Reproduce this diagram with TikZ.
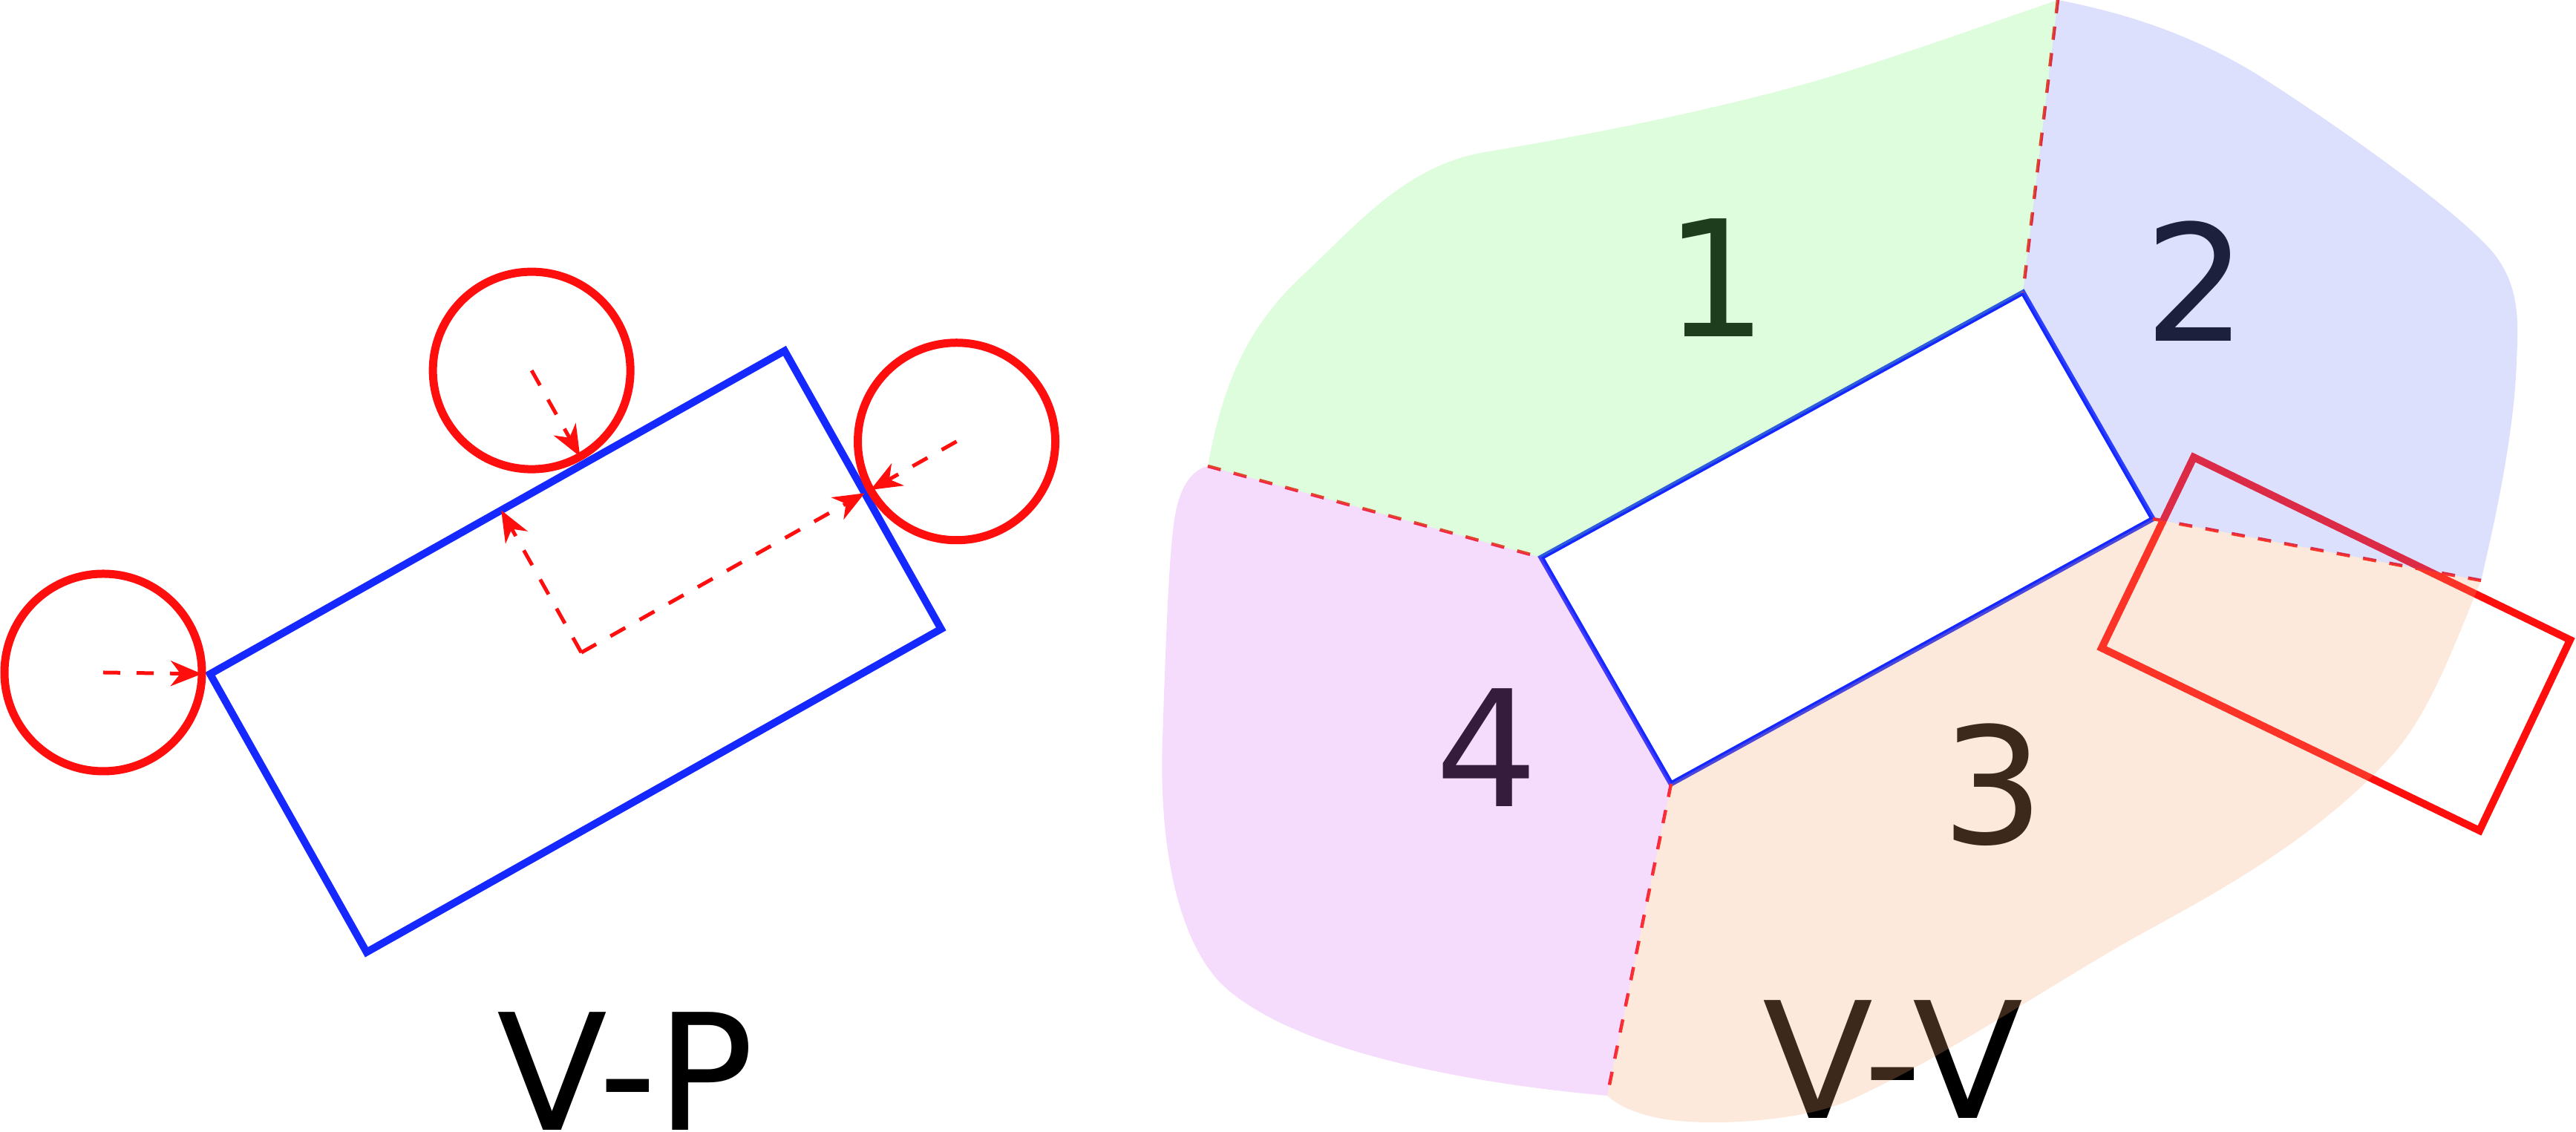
\documentclass[tikz,border=0pt]{standalone}
\usepackage{fontspec}
\setmainfont{DejaVu Sans}
\usetikzlibrary{arrows.meta,calc}
\definecolor{rectblue}{RGB}{20,40,255}
\definecolor{cred}{RGB}{255,14,14}
\definecolor{fgreen}{RGB}{119,247,119}
\definecolor{fblue}{RGB}{115,131,243}
\definecolor{forange}{RGB}{247,167,115}
\definecolor{fpink}{RGB}{215,115,243}
\begin{document}
\begin{tikzpicture}[
  lbl/.style={font=\fontsize{62}{62}\selectfont, inner sep=0pt, anchor=base},
  bluerectL/.style={draw=rectblue, line width=0.10cm, line join=miter},
  bluerectR/.style={draw=rectblue, line width=0.07cm, line join=miter},
  redrect/.style={draw=cred, line width=0.10cm, line join=miter},
  circ/.style={circle, draw=cred, line width=0.11cm, minimum size=2.66cm, inner sep=0pt},
  arr/.style={draw=cred, line width=0.05cm, dash pattern=on 0.23cm off 0.22cm,
    -{Stealth[length=0.42cm,width=0.34cm,inset=0.13cm]}},
  rdash/.style={draw=cred, line width=0.045cm, dash pattern=on 0.18cm off 0.18cm},
  region/.style={fill opacity=0.25}
]
\useasboundingbox (0,0) rectangle (34.7,15.25);

% ---------------- V-P ----------------
\coordinate (A) at (2.83,6.17);
\begin{scope}[shift={(A)}, rotate=29.36]
  \coordinate (B) at (8.88,0);
  \coordinate (C) at (8.88,-4.30);
  \coordinate (D) at (0,-4.30);
  \coordinate (c2) at (5.78,1.44);
  \coordinate (t2) at (5.78,0);
  \coordinate (c3) at (10.30,-2.20);
  \coordinate (t3) at (8.88,-2.20);
  \coordinate (P) at (4.50,-2.20);
  \coordinate (q) at (4.50,0);
\end{scope}
\coordinate (c1) at (1.39,6.19);

\draw[bluerectL] (A) -- (B) -- (C) -- (D) -- cycle;
\node[circ] (k1) at (c1) {};
\node[circ] (k2) at (c2) {};
\node[circ] (k3) at (c3) {};

\draw[arr] (k1.center) -- ($(k1.center)!1.33cm!(A)$);
\draw[arr] (k2.center) -- ($(k2.center)!1.33cm!(t2)$);
\draw[arr] (k3.center) -- ($(k3.center)!1.33cm!(t3)$);
\draw[arr] (P) -- (q);
\draw[arr] (P) -- (t3);

\node[lbl] (vp) at (8.43,0.02) {V-P};

% ---------------- V-V ----------------
\coordinate (vL) at (20.76,7.74);
\coordinate (vT) at (27.25,11.31);
\coordinate (vR) at (29.00,8.26);
\coordinate (vB) at (22.51,4.69);
\coordinate (jW) at (16.27,8.97);
\coordinate (jN) at (27.72,15.25);
\coordinate (jE) at (33.42,7.43);
\coordinate (jS) at (21.65,0.49);
\coordinate (r1) at (29.55,9.09);
\coordinate (r2) at (34.62,6.63);
\coordinate (r3) at (33.40,4.06);
\coordinate (r4) at (28.31,6.52);

\draw[bluerectR] (vL) -- (vT) -- (vR) -- (vB) -- cycle;
\draw[redrect] (r1) -- (r2) -- (r3) -- (r4) -- cycle;
\draw[rdash] (jW) -- (vL);
\draw[rdash] (jN) -- (vT);
\draw[rdash] (vR) -- (jE);
\draw[rdash] (vB) -- (jS);

\node[lbl] (n1) at (23.12,10.71) {1};
\node[lbl] (n2) at (29.58,10.65) {2};
\node[lbl] (n3) at (26.85,3.88) {3};
\node[lbl] (n4) at (20.03,4.38) {4};
\node[lbl] (vv) at (25.50,0.18) {V-V};

% translucent regions
\fill[fgreen, region] (jW)
  .. controls (16.50,10.25) and (16.90,10.95) .. (17.60,11.59)
  .. controls (18.30,12.25) and (18.95,13.02) .. (20.00,13.20)
  .. controls (21.50,13.45) and (23.00,13.75) .. (24.50,14.17)
  .. controls (25.60,14.50) and (26.70,14.90) .. (jN)
  -- (vT) -- (vL) -- cycle;
\fill[fblue, region] (jN)
  .. controls (28.60,15.08) and (29.50,14.80) .. (30.40,14.25)
  .. controls (31.50,13.55) and (33.20,12.35) .. (33.62,11.80)
  .. controls (33.95,11.35) and (33.92,10.90) .. (33.90,10.40)
  .. controls (33.87,9.40) and (33.60,8.20) .. (jE)
  -- (vR) -- (vT) -- cycle;
\fill[forange, region] (jE)
  .. controls (33.00,6.40) and (32.70,5.60) .. (32.20,5.05)
  .. controls (31.20,3.95) and (29.85,3.22) .. (28.90,2.70)
  .. controls (27.80,2.10) and (26.20,1.00) .. (24.90,0.42)
  .. controls (24.20,0.12) and (22.80,0.05) .. (22.20,0.22)
  .. controls (21.90,0.30) and (21.75,0.40) .. (jS)
  -- (vB) -- (vR) -- cycle;
\fill[fpink, region] (jS)
  .. controls (19.80,0.65) and (17.30,1.10) .. (16.40,2.05)
  .. controls (15.75,2.80) and (15.62,4.20) .. (15.66,5.30)
  .. controls (15.70,6.50) and (15.74,7.60) .. (15.80,8.10)
  .. controls (15.85,8.60) and (16.00,8.90) .. (jW)
  -- (vL) -- (vB) -- cycle;
\end{tikzpicture}
\end{document}
